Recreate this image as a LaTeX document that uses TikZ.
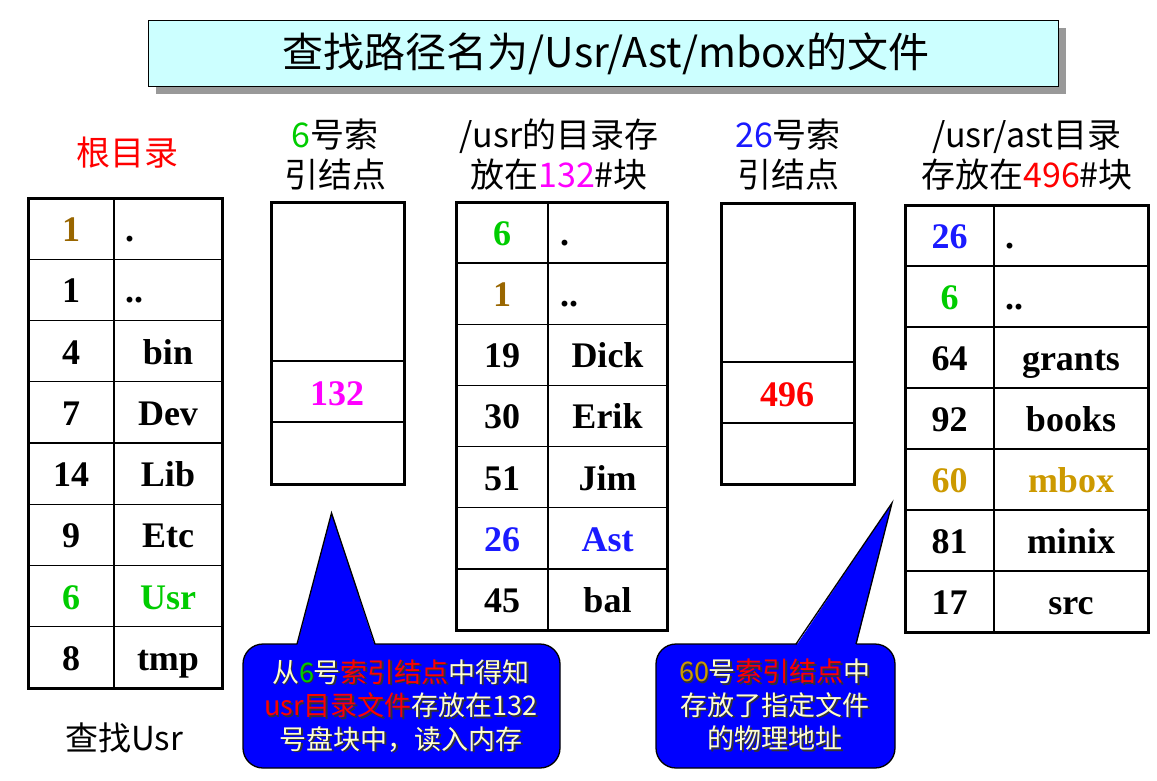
\documentclass[tikz,border=0pt]{standalone}
\usepackage{fontspec}
\setmainfont{Liberation Serif}
\newfontfamily\cjk{Noto Sans CJK SC}
\definecolor{cbrown}{HTML}{996600}
\definecolor{cgreen}{HTML}{00CC00}
\definecolor{cblue}{HTML}{1A1AFF}
\definecolor{cmag}{HTML}{FF00FF}
\definecolor{cgold}{HTML}{CC9900}
\definecolor{ccream}{HTML}{FFFFCC}
\definecolor{ctitle}{HTML}{CCFFFF}
\definecolor{cshadow}{HTML}{999999}
\definecolor{ccall}{HTML}{0000FF}
\newcommand\ct[2]{\textcolor{#1}{#2}}
\newcommand\ctplain[2]{#2}
\newcommand\txtone[1]{#1{ccream}{从}#1{cgreen}{6}#1{ccream}{号}#1{red}{索引结点}#1{ccream}{中得知}\\
#1{red}{usr目录文件}#1{ccream}{存放在132}\\
#1{ccream}{号盘块中，读入内存}}
\newcommand\txttwo[1]{#1{cgold}{60}#1{ccream}{号}#1{red}{索引结点}#1{ccream}{中}\\
#1{ccream}{存放了指定文件}\\
#1{ccream}{的物理地址}}
\tikzset{
  outerbox/.style={draw=black, line width=3pt},
  innerline/.style={draw=black, line width=1.4pt},
  cell/.style={font=\fontsize{36}{36}\selectfont\bfseries, anchor=base, inner sep=0pt},
  dotcell/.style={font=\fontsize{36}{36}\selectfont\bfseries, anchor=base west, inner sep=0pt},
  header/.style={font=\cjk\fontsize{34}{40}\selectfont, align=center, inner sep=0pt},
  callout/.style={fill=ccall, draw=black, line width=1.3pt},
  calltext/.style={font=\cjk\fontsize{27}{33.5}\selectfont, align=center, inner sep=0pt},
}
\begin{document}
\begin{tikzpicture}[x=1pt,y=-1pt]
\useasboundingbox (0,0) rectangle (1157,780);
% title
\fill[cshadow] (156,28) rectangle (1066,94);
\draw[fill=ctitle, line width=1pt] (148,20) rectangle (1058,86);
\node[font=\cjk\fontsize{41}{41}\selectfont, inner sep=0pt] (title) at (606,54) {查找路径名为/Usr/Ast/mbox的文件};

% headers
\node[header, text=red] (h1) at (127,153) {根目录};
\node[header] (h2) at (335,155) {\textcolor{cgreen}{6}号索\\引结点};
\node[header] (h3) at (559,155) {/usr的目录存\\放在\textcolor{cmag}{132}\#块};
\node[header] (h4) at (788,155) {\textcolor{cblue}{26}号索\\引结点};
\node[header] (h5) at (1027,155) {/usr/ast目录\\存放在\textcolor{red}{496}\#块};

% table 1: root directory
\foreach \i in {1,...,7} \draw[innerline] (28,198+61.25*\i) -- (222,198+61.25*\i);
\draw[innerline] (114,198) -- (114,688);
\draw[outerbox] (28,198) rectangle (222,688);
\node[cell, text=cbrown] (a0) at (71,198+61.25*0+43.5) {1};
\node[dotcell] (b0) at (125,198+61.25*0+43.5) {.};
\node[cell] (a1) at (71,198+61.25*1+43.5) {1};
\node[dotcell] (b1) at (125,198+61.25*1+43.5) {..};
\foreach \i/\n/\m/\c in {2/4/bin/black,3/7/Dev/black,4/14/Lib/black,5/9/Etc/black,6/6/Usr/cgreen,7/8/tmp/black}{
  \node[cell, text=\c] (a\i) at (71,198+61.25*\i+43.5) {\n};
  \node[cell, text=\c] (b\i) at (168,198+61.25*\i+43.5) {\m};
}

% table 2: inode 6
\draw[innerline] (271,361) -- (404,361);
\draw[innerline] (271,422) -- (404,422);
\draw[outerbox] (271,202) rectangle (404,484);
\node[cell, text=cmag] (i6) at (337,391.5+13.5) {132};

% table 3: block 132
\foreach \i in {1,...,6} \draw[innerline] (456,202+61.14*\i) -- (667,202+61.14*\i);
\draw[innerline] (548,202) -- (548,630);
\draw[outerbox] (456,202) rectangle (667,630);
\node[cell, text=cgreen] (c0) at (502,202+61.14*0+43.5) {6};
\node[dotcell] (d0) at (560,202+61.14*0+43.5) {.};
\node[cell, text=cbrown] (c1) at (502,202+61.14*1+43.5) {1};
\node[dotcell] (d1) at (560,202+61.14*1+43.5) {..};
\foreach \i/\n/\m/\c in {2/19/Dick/black,3/30/Erik/black,4/51/Jim/black,5/26/Ast/cblue,6/45/bal/black}{
  \node[cell, text=\c] (c\i) at (502,202+61.14*\i+43.5) {\n};
  \node[cell, text=\c] (d\i) at (607.5,202+61.14*\i+43.5) {\m};
}

% table 4: inode 26
\draw[innerline] (721,362) -- (854,362);
\draw[innerline] (721,423) -- (854,423);
\draw[outerbox] (721,203) rectangle (854,484);
\node[cell, text=red] (i26) at (787,392.5+13.5) {496};

% table 5: block 496
\foreach \i in {1,...,6} \draw[innerline] (905,205+61*\i) -- (1148,205+61*\i);
\draw[innerline] (994,205) -- (994,632);
\draw[outerbox] (905,205) rectangle (1148,632);
\node[cell, text=cblue] (e0) at (949.5,205+61*0+43.5) {26};
\node[dotcell] (f0) at (1005,205+61*0+43.5) {.};
\node[cell, text=cgreen] (e1) at (949.5,205+61*1+43.5) {6};
\node[dotcell] (f1) at (1005,205+61*1+43.5) {..};
\foreach \i/\n/\m/\c in {2/64/grants/black,3/92/books/black,4/60/mbox/cgold,5/81/minix/black,6/17/src/black}{
  \node[cell, text=\c] (e\i) at (949.5,205+61*\i+43.5) {\n};
  \node[cell, text=\c] (f\i) at (1071,205+61*\i+43.5) {\m};
}

% bottom label
\node[font=\cjk\fontsize{33}{33}\selectfont, inner sep=0pt] (find) at (124,738) {查找Usr};

% callout 1
\draw[callout, rounded corners=20] (243,644) rectangle (560,768);
\fill[ccall] (297,646) -- (331.5,513) -- (375,646) -- cycle;
\draw[line width=1.3pt, line join=miter] (297,644) -- (331.5,513) -- (375,644);
\node[calltext, text=black!80] (s1) at (402.5,707.5) {\txtone\ctplain};
\node[calltext] (t1) at (401,706) {\txtone\ct};

% callout 2
\draw[callout, rounded corners=20] (656,644) rectangle (895,768);
\fill[ccall] (796,646) -- (892,503) -- (856,646) -- cycle;
\draw[line width=1.3pt, line join=miter] (796,644) -- (892,503) -- (856,644);
\node[calltext, text=black!80] (s2) at (776.5,706.5) {\txttwo\ctplain};
\node[calltext] (t2) at (775,705) {\txttwo\ct};
\end{tikzpicture}
\end{document}
